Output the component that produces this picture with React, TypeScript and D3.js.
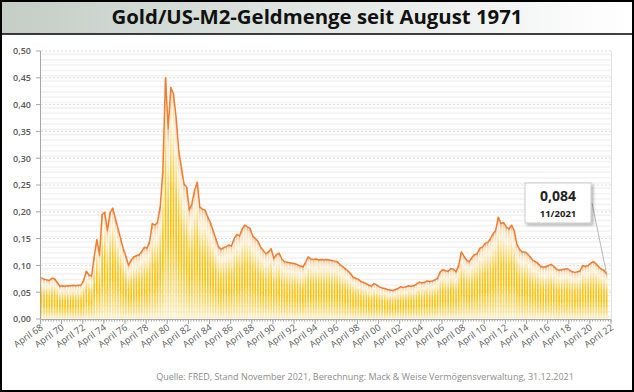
import React from 'react';
import * as d3 from 'd3';

// Gold / US-M2 ratio, quarterly readings from May 1968 to Nov 2021
const ratio = [
  0.077, 0.074, 0.073,
  0.072, 0.076, 0.075, 0.068,
  0.061, 0.062, 0.061, 0.062,
  0.062, 0.063, 0.062, 0.063,
  0.063, 0.072, 0.089, 0.082,
  0.080, 0.116, 0.148, 0.120,
  0.195, 0.199, 0.165, 0.198,
  0.207, 0.188, 0.169, 0.150,
  0.131, 0.117, 0.100, 0.110,
  0.116, 0.118, 0.120, 0.126,
  0.134, 0.132, 0.145, 0.178,
  0.175, 0.181, 0.209, 0.277,
  0.450, 0.355, 0.432, 0.420,
  0.376, 0.314, 0.283, 0.252,
  0.246, 0.203, 0.215, 0.240,
  0.255, 0.209, 0.205, 0.203,
  0.190, 0.180, 0.165, 0.150,
  0.135, 0.130, 0.133, 0.135,
  0.138, 0.136, 0.150, 0.158,
  0.155, 0.168, 0.175, 0.172,
  0.169, 0.155, 0.150, 0.145,
  0.134, 0.128, 0.122, 0.125,
  0.131, 0.113, 0.120, 0.123,
  0.112, 0.107, 0.106, 0.105,
  0.104, 0.103, 0.101, 0.099,
  0.097, 0.105, 0.116, 0.112,
  0.111, 0.112, 0.110, 0.111,
  0.110, 0.111, 0.110, 0.109,
  0.108, 0.107, 0.102, 0.098,
  0.094, 0.090, 0.085, 0.078,
  0.076, 0.074, 0.070, 0.068,
  0.066, 0.063, 0.061, 0.066,
  0.063, 0.060, 0.058, 0.057,
  0.055, 0.054, 0.053, 0.055,
  0.057, 0.060, 0.059, 0.060,
  0.062, 0.061, 0.062, 0.065,
  0.069, 0.067, 0.068, 0.071,
  0.070, 0.071, 0.073, 0.076,
  0.088, 0.092, 0.090, 0.089,
  0.094, 0.093, 0.088, 0.100,
  0.125, 0.117, 0.110, 0.107,
  0.115, 0.120, 0.122, 0.132,
  0.134, 0.141, 0.143, 0.150,
  0.159, 0.165, 0.190, 0.178,
  0.180, 0.172, 0.168, 0.175,
  0.165, 0.140, 0.130, 0.125,
  0.125, 0.122, 0.116, 0.110,
  0.107, 0.104, 0.098, 0.097,
  0.097, 0.100, 0.102, 0.098,
  0.093, 0.091, 0.092, 0.093,
  0.094, 0.091, 0.088, 0.087,
  0.088, 0.090, 0.100, 0.098,
  0.100, 0.104, 0.107, 0.103,
  0.097, 0.093, 0.091, 0.084,
];
const firstMonth = new Date(1968, 4, 1);
const yTicks = [0, 0.05, 0.1, 0.15, 0.2, 0.25, 0.3, 0.35, 0.4, 0.45, 0.5];
const tickYears = d3.range(1968, 2023, 2);

const title = 'Gold/US-M2-Geldmenge seit August 1971';
const source = 'Quelle: FRED, Stand November 2021, Berechnung: Mack & Weise Vermögensverwaltung, 31.12.2021';
const calloutValue = '0,084';
const calloutDate = '11/2021';

const W = 634, H = 392;
const font = "'Open Sans', 'Noto Sans', sans-serif";
const fmt = (v: number) => d3.format('.2f')(v).replace('.', ',');

export default function App() {
  const dates = ratio.map((_, i) => d3.timeMonth.offset(firstMonth, i * 3));
  const x = d3.scaleTime()
    .domain([new Date(1968, 3, 1), new Date(2022, 3, 1)])
    .range([40.5, 611]);
  const y = d3.scaleLinear().domain([0, 0.5]).range([319, 51]);

  const step = x(dates[1]) - x(dates[0]);
  const barW = step * 0.62;

  const line = d3.line<number>()
    .x((_, i) => x(dates[i]))
    .y(d => y(d));

  const minorY = d3.range(0, 0.5, 0.01);
  const quarterTicks = d3.timeMonth.range(new Date(1968, 3, 1), new Date(2022, 4, 1), 3);

  const last = ratio.length - 1;
  const lx = x(dates[last]);
  const ly = y(ratio[last]);

  return (
    <svg width={W} height={H} style={{ position: 'absolute', left: 0, top: 0 }}
      fontFamily={font}>
      <defs>
        <linearGradient id="titleGrad" x1="0" x2="1" y1="0" y2="0">
          <stop offset="0" stopColor="#C3CEC6" />
          <stop offset="1" stopColor="#FFFFFF" />
        </linearGradient>
        <linearGradient id="barGrad" x1="0" x2="0" y1="0" y2="1">
          <stop offset="0" stopColor="#F3AE72" />
          <stop offset="0.06" stopColor="#FBDDB5" />
          <stop offset="0.16" stopColor="#FFF0D2" />
          <stop offset="0.42" stopColor="#FFC61C" />
          <stop offset="0.62" stopColor="#FFC000" />
          <stop offset="0.85" stopColor="#FFD96E" />
          <stop offset="1" stopColor="#FFF1CC" />
        </linearGradient>
        <filter id="shadow" x="-20%" y="-20%" width="150%" height="160%">
          <feDropShadow dx="2" dy="2" stdDeviation="1.5" floodColor="#000" floodOpacity="0.3" />
        </filter>
      </defs>

      <rect x={0} y={0} width={W} height={H} fill="#fff" />
      <rect x={1} y={1} width={W - 2} height={33} fill="url(#titleGrad)" />
      <line x1={0} x2={W} y1={34} y2={34} stroke="#000" strokeWidth={1.5} />
      <text x={317} y={24} textAnchor="middle" fontSize={19.5} fontWeight={700}
        fill="#111" textLength={411} lengthAdjust="spacingAndGlyphs">{title}</text>

      {/* grid */}
      {minorY.map(v => (
        <line key={'m' + v} x1={41} x2={611} y1={y(v) - 2} y2={y(v) - 2}
          stroke="#F2F2F2" strokeWidth={1.5} />
      ))}
      {yTicks.slice(1).map(v => (
        <line key={'g' + v} x1={41} x2={611} y1={y(v)} y2={y(v)}
          stroke="#D4D4D4" strokeWidth={0.8} strokeDasharray="2,2" />
      ))}
      <line x1={611.5} x2={611.5} y1={51} y2={319} stroke="#E3E3E3" />

      {/* bars */}
      {ratio.map((v, i) => (
        <rect key={i} x={x(dates[i]) - barW / 2} y={y(v)} width={barW}
          height={y(0) - y(v)} fill="url(#barGrad)" />
      ))}
      <path d={line(ratio) || ''} fill="none" stroke="#ED7D31" strokeWidth={1.5}
        strokeLinejoin="round" />

      {/* y axis */}
      <line x1={40.5} x2={40.5} y1={51} y2={319} stroke="#A6A6A6" />
      {yTicks.map(v => (
        <g key={'y' + v}>
          <line x1={36} x2={40.5} y1={y(v)} y2={y(v)} stroke="#A6A6A6" />
          <text x={31} y={y(v) + 3.3} textAnchor="end" fontSize={9}
            fontWeight={600} fill="#595959">{fmt(v)}</text>
        </g>
      ))}

      {/* x axis */}
      <line x1={40.5} x2={611} y1={319.5} y2={319.5} stroke="#A6A6A6" />
      {quarterTicks.map((d, i) => (
        <line key={'q' + i} x1={x(d)} x2={x(d)} y1={319.5} y2={321.5} stroke="#A6A6A6" />
      ))}
      {tickYears.map(yr => {
        const tx = x(new Date(yr, 3, 1));
        return (
          <g key={'x' + yr}>
            <line x1={tx} x2={tx} y1={319.5} y2={324} stroke="#A6A6A6" />
            <text transform={`translate(${tx + 3},${329}) rotate(-35)`}
              textAnchor="end" fontSize={9.3} fill="#595959">
              {'April ' + String(yr % 100).padStart(2, '0')}
            </text>
          </g>
        );
      })}

      {/* callout */}
      <line x1={592} y1={203} x2={lx} y2={ly} stroke="#A6A6A6" strokeWidth={0.8} />
      <rect x={525} y={183} width={66} height={40} fill="#fff" stroke="#BFBFBF"
        strokeWidth={0.8} filter="url(#shadow)" />
      <text x={558} y={201} textAnchor="middle" fontSize={14} fontWeight={700}
        fill="#222">{calloutValue}</text>
      <text x={558} y={217} textAnchor="middle" fontSize={9.5} fontWeight={700}
        fill="#222">{calloutDate}</text>

      <text x={365} y={380} textAnchor="middle" fontSize={9} fill="#8C8C8C">{source}</text>

      <rect x={1} y={1} width={W - 2} height={H - 2} fill="none" stroke="#000" strokeWidth={2} />
    </svg>
  );
}
